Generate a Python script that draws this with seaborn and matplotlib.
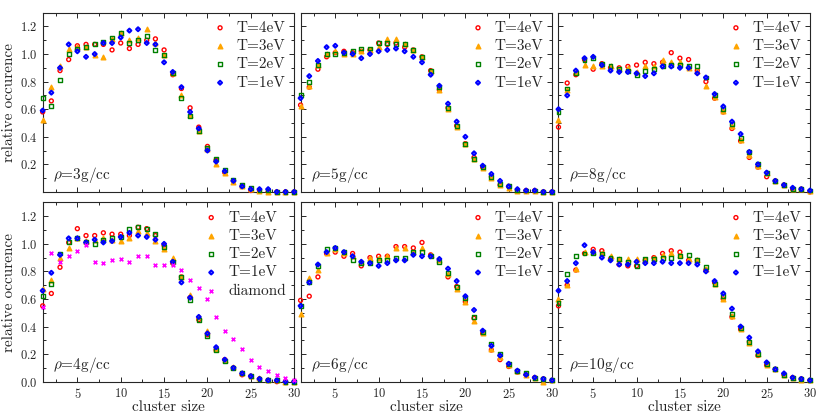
import numpy as np
import pandas as pd
import matplotlib
matplotlib.use("Agg")
import matplotlib.pyplot as plt
import seaborn as sns
from matplotlib.ticker import MultipleLocator

# cluster sizes
sizes = list(range(1, 31))

# rho = 3 g/cc
rho3_T4 = [0.58, 0.66, 0.88, 0.96, 1.06, 1.07, 1.07, 1.07, 1.03, 1.08, 1.04, 1.07, 1.10, 1.11, 1.03,
           0.85, 0.75, 0.61, 0.47, 0.33, 0.23, 0.14, 0.08, 0.04, 0.01, 0.01, 0.00, 0.00, 0.00, 0.00]
rho3_T3 = [0.52, 0.76, 0.91, 1.04, 1.05, 1.05, 0.99, 0.98, 1.11, 1.15, 1.10, 1.12, 1.18, 1.08, 0.99,
           0.86, 0.70, 0.56, 0.44, 0.31, 0.20, 0.14, 0.07, 0.04, 0.02, 0.01, 0.00, 0.00, 0.00, 0.00]
rho3_T2 = [0.68, 0.62, 0.81, 1.00, 1.04, 1.05, 1.07, 1.09, 1.12, 1.15, 1.08, 1.10, 1.13, 1.03, 0.99,
           0.86, 0.68, 0.55, 0.44, 0.32, 0.24, 0.16, 0.09, 0.05, 0.03, 0.01, 0.01, 0.00, 0.00, 0.00]
rho3_T1 = [0.59, 0.72, 0.90, 1.07, 1.02, 0.98, 1.00, 1.08, 1.08, 1.12, 1.17, 1.18, 1.08, 1.07, 0.94,
           0.87, 0.76, 0.58, 0.46, 0.30, 0.22, 0.15, 0.08, 0.04, 0.02, 0.02, 0.02, 0.00, 0.00, 0.00]

# rho = 5 g/cc
rho5_T4 = [0.63, 0.76, 0.89, 0.98, 1.01, 1.02, 1.01, 1.02, 1.03, 1.08, 1.07, 1.08, 1.05, 1.03, 0.98,
           0.88, 0.74, 0.61, 0.48, 0.35, 0.25, 0.18, 0.11, 0.05, 0.04, 0.01, 0.01, 0.01, 0.00, 0.00]
rho5_T3 = [0.62, 0.77, 0.92, 1.00, 1.02, 1.00, 1.00, 1.02, 1.03, 1.05, 1.11, 1.11, 1.07, 1.03, 0.98,
           0.88, 0.74, 0.60, 0.47, 0.35, 0.24, 0.17, 0.10, 0.05, 0.03, 0.01, 0.01, 0.01, 0.00, 0.00]
rho5_T2 = [0.70, 0.80, 0.92, 1.00, 1.00, 1.01, 1.02, 1.04, 1.04, 1.08, 1.08, 1.07, 1.07, 1.03, 0.98,
           0.88, 0.76, 0.61, 0.48, 0.35, 0.24, 0.18, 0.11, 0.06, 0.04, 0.01, 0.01, 0.01, 0.00, 0.00]
rho5_T1 = [0.68, 0.84, 0.95, 1.05, 1.06, 1.01, 1.00, 0.97, 1.00, 1.02, 1.03, 1.04, 1.02, 0.98, 0.94,
           0.85, 0.77, 0.64, 0.51, 0.40, 0.28, 0.19, 0.13, 0.08, 0.04, 0.02, 0.01, 0.01, 0.00, 0.00]

# rho = 8 g/cc
rho8_T4 = [0.47, 0.79, 0.85, 0.96, 0.89, 0.93, 0.90, 0.90, 0.91, 0.92, 0.94, 0.93, 0.94, 1.01, 0.97,
           0.96, 0.88, 0.80, 0.68, 0.58, 0.46, 0.37, 0.25, 0.18, 0.11, 0.08, 0.05, 0.02, 0.02, 0.00]
rho8_T3 = [0.52, 0.74, 0.87, 0.92, 0.91, 0.91, 0.91, 0.89, 0.90, 0.87, 0.91, 0.91, 0.96, 0.94, 0.94,
           0.90, 0.88, 0.77, 0.69, 0.59, 0.48, 0.38, 0.27, 0.19, 0.14, 0.08, 0.05, 0.02, 0.02, 0.01]
rho8_T2 = [0.58, 0.75, 0.86, 0.96, 0.97, 0.93, 0.91, 0.89, 0.88, 0.85, 0.88, 0.89, 0.91, 0.92, 0.92,
           0.91, 0.91, 0.83, 0.70, 0.60, 0.49, 0.39, 0.29, 0.20, 0.14, 0.08, 0.05, 0.02, 0.02, 0.01]
rho8_T1 = [0.60, 0.70, 0.88, 0.97, 0.98, 0.92, 0.88, 0.87, 0.87, 0.86, 0.84, 0.86, 0.91, 0.91, 0.90,
           0.90, 0.86, 0.83, 0.71, 0.62, 0.51, 0.42, 0.29, 0.20, 0.14, 0.08, 0.05, 0.03, 0.02, 0.01]

# rho = 4 g/cc (with diamond reference)
rho4_T4 = [0.55, 0.64, 0.83, 1.01, 1.11, 1.06, 1.06, 1.08, 1.07, 1.07, 1.06, 1.12, 1.11, 1.06, 0.99,
           0.86, 0.76, 0.61, 0.45, 0.34, 0.23, 0.16, 0.10, 0.05, 0.04, 0.02, 0.01, 0.00, 0.00, 0.00]
rho4_T3 = [0.67, 0.74, 0.90, 0.97, 1.04, 1.02, 1.03, 1.04, 1.03, 1.02, 1.04, 1.09, 1.08, 1.02, 0.96,
           0.90, 0.76, 0.63, 0.47, 0.37, 0.24, 0.16, 0.11, 0.06, 0.04, 0.03, 0.01, 0.01, 0.00, 0.00]
rho4_T2 = [0.62, 0.71, 0.93, 1.01, 1.04, 1.01, 1.00, 1.03, 1.04, 1.05, 1.11, 1.12, 1.11, 1.07, 0.98,
           0.87, 0.76, 0.59, 0.45, 0.33, 0.23, 0.15, 0.10, 0.06, 0.04, 0.02, 0.01, 0.01, 0.00, 0.00]
rho4_T1 = [0.66, 0.79, 0.92, 1.04, 1.04, 1.01, 1.03, 1.01, 1.02, 1.05, 1.08, 1.06, 1.05, 1.03, 1.00,
           0.87, 0.72, 0.61, 0.47, 0.35, 0.25, 0.16, 0.10, 0.06, 0.04, 0.02, 0.01, 0.01, 0.00, 0.00]
rho4_diamond = [0.54, 0.93, 0.87, 0.91, 0.95, 0.99, 0.87, 0.86, 0.88, 0.89, 0.87, 0.91, 0.91, 0.85, 0.85,
                0.85, 0.81, 0.74, 0.68, 0.60, 0.47, 0.37, 0.31, 0.24, 0.16, 0.11, 0.08, 0.05, 0.03, 0.01]

# rho = 6 g/cc
rho6_T4 = [0.59, 0.62, 0.76, 0.93, 0.94, 0.91, 0.93, 0.84, 0.90, 0.91, 0.91, 0.98, 0.98, 0.97, 1.01,
           0.92, 0.88, 0.76, 0.69, 0.58, 0.46, 0.35, 0.23, 0.16, 0.11, 0.07, 0.05, 0.03, 0.02, 0.01]
rho6_T3 = [0.49, 0.75, 0.81, 0.93, 0.96, 0.93, 0.91, 0.87, 0.90, 0.90, 0.91, 0.97, 0.97, 0.94, 0.97,
           0.92, 0.88, 0.78, 0.67, 0.58, 0.44, 0.35, 0.24, 0.18, 0.12, 0.08, 0.05, 0.03, 0.00, 0.01]
rho6_T2 = [0.55, 0.72, 0.84, 0.96, 0.97, 0.94, 0.88, 0.86, 0.86, 0.88, 0.88, 0.90, 0.90, 0.94, 0.94,
           0.91, 0.87, 0.79, 0.69, 0.61, 0.47, 0.36, 0.27, 0.20, 0.13, 0.08, 0.06, 0.03, 0.02, 0.01]
rho6_T1 = [0.55, 0.72, 0.85, 0.94, 0.97, 0.94, 0.91, 0.87, 0.86, 0.84, 0.86, 0.88, 0.88, 0.92, 0.91,
           0.91, 0.89, 0.82, 0.73, 0.62, 0.52, 0.37, 0.26, 0.19, 0.13, 0.08, 0.05, 0.03, 0.02, 0.01]

# rho = 10 g/cc
rho10_T4 = [0.55, 0.70, 0.81, 0.93, 0.96, 0.95, 0.89, 0.85, 0.84, 0.84, 0.88, 0.90, 0.93, 0.95, 0.94,
            0.88, 0.88, 0.81, 0.72, 0.60, 0.47, 0.38, 0.29, 0.19, 0.12, 0.09, 0.05, 0.03, 0.02, 0.01]
rho10_T3 = [0.60, 0.70, 0.82, 0.94, 0.94, 0.93, 0.91, 0.89, 0.89, 0.89, 0.88, 0.90, 0.92, 0.93, 0.92,
            0.89, 0.88, 0.82, 0.71, 0.60, 0.48, 0.38, 0.28, 0.20, 0.12, 0.09, 0.05, 0.03, 0.01, 0.01]
rho10_T2 = [0.57, 0.78, 0.91, 0.93, 0.93, 0.93, 0.90, 0.89, 0.87, 0.84, 0.89, 0.89, 0.90, 0.90, 0.91,
            0.92, 0.88, 0.83, 0.71, 0.62, 0.49, 0.39, 0.29, 0.20, 0.13, 0.09, 0.05, 0.03, 0.02, 0.01]
rho10_T1 = [0.66, 0.73, 0.86, 0.99, 0.94, 0.90, 0.88, 0.85, 0.85, 0.87, 0.86, 0.86, 0.87, 0.86, 0.86,
            0.86, 0.85, 0.80, 0.73, 0.64, 0.53, 0.40, 0.32, 0.22, 0.14, 0.09, 0.06, 0.03, 0.02, 0.01]

sns.set_style("ticks")
plt.rcParams["font.family"] = ["cmr10"]
plt.rcParams["mathtext.fontset"] = "cm"
plt.rcParams["axes.formatter.use_mathtext"] = True
plt.rcParams["axes.unicode_minus"] = False

# (label, color, marker, filled, size, edge width)
styles = [
    ("T=4eV", "#ff0000", "o", False, 8, 1.0),
    ("T=3eV", "#ffa500", "^", True, 11, 1.0),
    ("T=2eV", "#008000", "s", False, 8, 1.0),
    ("T=1eV", "#0000ff", "D", False, 4, 1.5),
]

panels = [
    ("3", [rho3_T4, rho3_T3, rho3_T2, rho3_T1], None),
    ("5", [rho5_T4, rho5_T3, rho5_T2, rho5_T1], None),
    ("8", [rho8_T4, rho8_T3, rho8_T2, rho8_T1], None),
    ("4", [rho4_T4, rho4_T3, rho4_T2, rho4_T1], rho4_diamond),
    ("6", [rho6_T4, rho6_T3, rho6_T2, rho6_T1], None),
    ("10", [rho10_T4, rho10_T3, rho10_T2, rho10_T1], None),
]

fig, axes = plt.subplots(2, 3, figsize=(8.3, 4.16), dpi=100)
fig.subplots_adjust(left=0.0514, right=0.9759, bottom=0.0825, top=0.9695,
                    wspace=0.0255, hspace=0.059)

for i, (ax, (rho, series, diamond)) in enumerate(zip(axes.flat, panels)):
    row, col = divmod(i, 3)
    for (label, color, marker, filled, ms, lw), vals in zip(styles, series):
        df = pd.DataFrame({"size": sizes, "occ": vals})
        sns.scatterplot(data=df, x="size", y="occ", ax=ax, marker=marker, s=ms,
                        color=color, facecolor=color if filled else "none",
                        edgecolor=color, linewidth=lw, label=label,
                        clip_on=False, legend=False, zorder=3)
    if diamond is not None:
        df = pd.DataFrame({"size": sizes, "occ": diamond})
        sns.scatterplot(data=df, x="size", y="occ", ax=ax, marker="x", s=7,
                        color="#ff00ff", linewidth=1.2, label="diamond",
                        clip_on=False, legend=False, zorder=3)

    ax.set_xlim(1, 30)
    ax.set_ylim(0, 1.3)
    ax.xaxis.set_major_locator(MultipleLocator(5))
    ax.xaxis.set_minor_locator(MultipleLocator(2.5))
    ax.yaxis.set_minor_locator(MultipleLocator(0.1))
    if row == 0:
        ax.set_yticks([0.2, 0.4, 0.6, 0.8, 1.0, 1.2])
    else:
        ax.set_yticks([0.0, 0.2, 0.4, 0.6, 0.8, 1.0, 1.2])
    ax.tick_params(which="both", direction="in", top=True, right=True, labelsize=9, width=0.7)
    ax.tick_params(which="major", length=3.5)
    ax.tick_params(which="minor", length=2)
    for sp in ax.spines.values():
        sp.set_linewidth(0.8)

    if col != 0:
        ax.set_yticklabels([])
        ax.set_ylabel("")
    else:
        ax.set_ylabel("relative occurence", fontsize=11, labelpad=3)
    if row == 0:
        ax.set_xticklabels([])
        ax.set_xlabel("")
    else:
        ax.set_xlabel("cluster size", fontsize=11, labelpad=0)

    ax.text(0.04, 0.04, r"$\rho$=" + rho + "g/cc", transform=ax.transAxes,
            fontsize=11, ha="left", va="bottom")
    ax.legend(loc="upper right", frameon=False, fontsize=11, handlelength=1.0,
              handletextpad=0.6, labelspacing=0.3, borderaxespad=0.2,
              borderpad=0.35)

fig.savefig("out.png", dpi=100)
